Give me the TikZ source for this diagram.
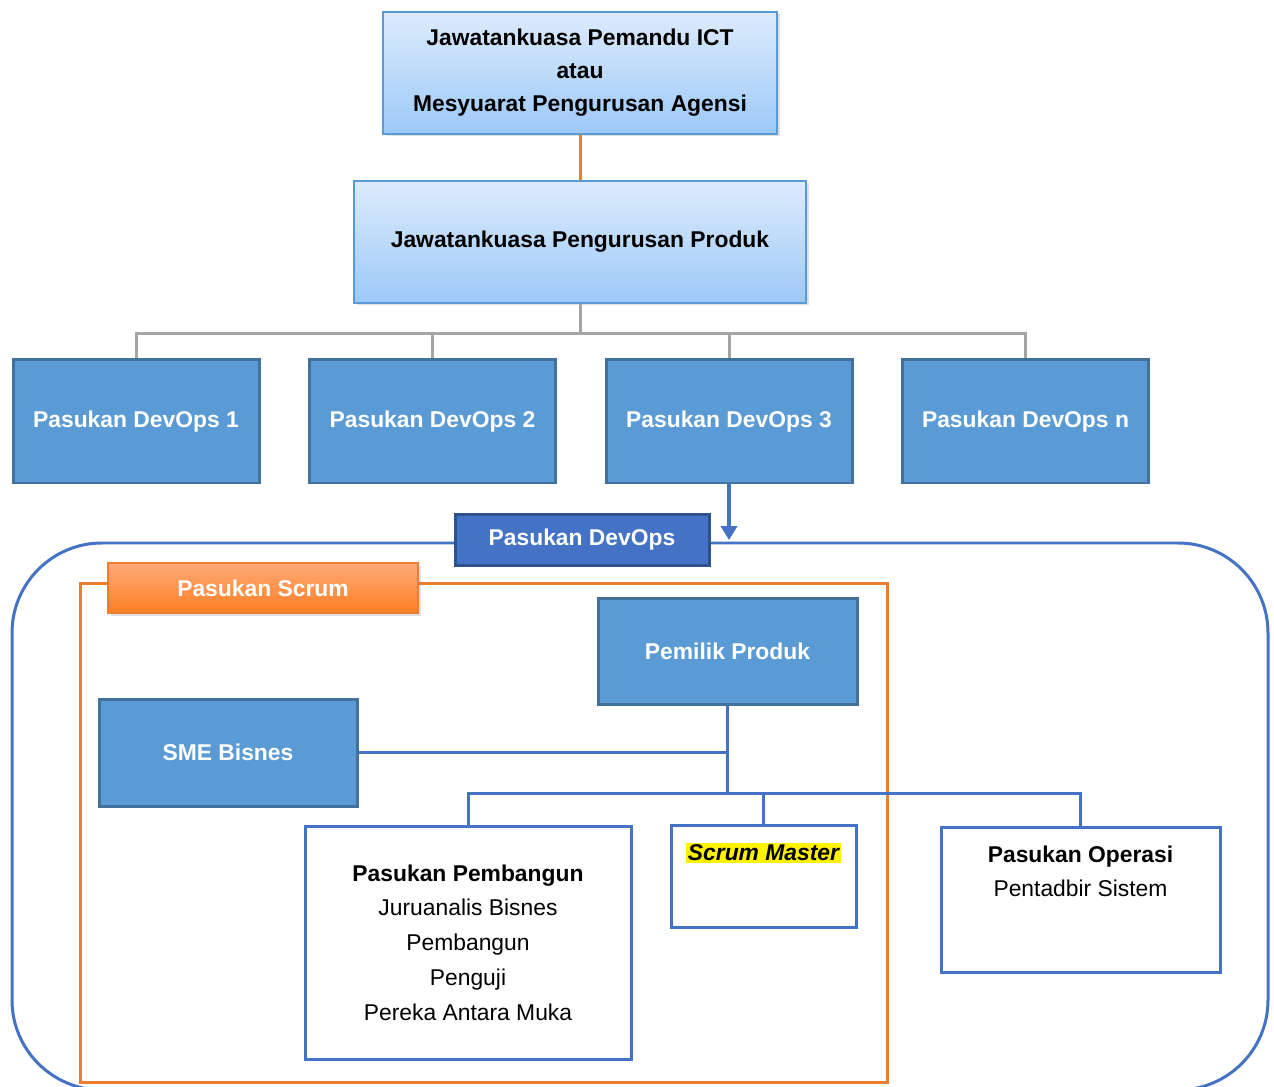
\documentclass[tikz,border=0pt]{standalone}
\usepackage{fontspec}
\setmainfont{Liberation Sans}
\usetikzlibrary{arrows.meta,shadows}
\definecolor{teamfill}{HTML}{5B9BD5}
\definecolor{teamedge}{HTML}{41719C}
\definecolor{roleblue}{HTML}{4472C4}
\definecolor{darkedge}{HTML}{2F528F}
\definecolor{scrumorange}{HTML}{ED7D31}
\definecolor{linegray}{HTML}{A5A5A5}
\definecolor{skytop}{HTML}{DDEBFC}
\definecolor{skybottom}{HTML}{9CC9F8}
\definecolor{skyedge}{HTML}{5B9BD5}
\definecolor{peachtop}{HTML}{FFAA78}
\definecolor{peachbottom}{HTML}{FF7E22}
\tikzset{
	every node/.style={font=\fontsize{13}{19}\selectfont},
	committee/.style={draw=skyedge, line width=0.03cm, top color=skytop, bottom color=skybottom, drop shadow={opacity=0.25, shadow xshift=0.05cm, shadow yshift=-0.05cm}, align=center, font=\fontsize{13}{18.8}\selectfont\bfseries, minimum height=2.44cm},
	devops/.style={draw=teamedge, fill=teamfill, line width=0.06cm, text=white, font=\fontsize{13}{19}\selectfont\bfseries, minimum width=4.92cm, minimum height=2.46cm},
	role/.style={draw=roleblue, line width=0.06cm},
	link/.style={line width=0.06cm},
}
\begin{document}
\begin{tikzpicture}
	\useasboundingbox (0 cm, 0 cm) rectangle (25.48 cm, 21.72 cm);
	\clip (0 cm, 0 cm) rectangle (25.48 cm, 21.72 cm);
	\node[committee, minimum width=7.88cm] (ict) at (11.6 cm, 20.26 cm) {Jawatankuasa Pemandu ICT\\atau\\Mesyuarat Pengurusan Agensi};
	\node[committee, minimum width=9.04cm] (produk) at (11.6 cm, 16.88 cm) {Jawatankuasa Pengurusan Produk};
	\draw[link, scrumorange] (ict) -- (produk);
	\foreach \n/\x in {1/2.72, 2/8.65, 3/14.58, n/20.51}{
		\node[devops] (devops \n) at (\x cm, 13.29 cm) {Pasukan DevOps \n};
	}
	\coordinate (fork) at (11.6 cm, 15.04 cm);
	\draw[link, linegray] (produk) -- (fork);
	\foreach \n in {1,2,3,n}{
		\draw[link, linegray] (fork) -| (devops \n);
	}
	\draw[roleblue, line width=0.06cm, rounded corners=1.8cm] (0.24 cm, -0.08 cm) rectangle (25.36 cm, 10.86 cm);
	\draw[scrumorange, line width=0.06cm] (1.6 cm, 0.08 cm) rectangle (17.74 cm, 10.06 cm);
	\node[draw=darkedge, fill=roleblue, line width=0.06cm, text=white, font=\fontsize{13}{19}\selectfont\bfseries, minimum width=5.08cm, minimum height=1.02cm] (pasukan) at (11.64 cm, 10.93 cm) {Pasukan DevOps};
	\coordinate (drop) at (14.58 cm, 10.92 cm);
	\draw[roleblue, line width=0.08cm, -{Triangle[width=0.32cm, length=0.28cm]}] (devops 3) -- (drop);
	\node[draw=scrumorange, line width=0.03cm, top color=peachtop, bottom color=peachbottom, drop shadow={opacity=0.25, shadow xshift=0.05cm, shadow yshift=-0.05cm}, text=white, font=\fontsize{13}{19}\selectfont\bfseries, minimum width=6.2cm, minimum height=1cm] (scrum) at (5.26 cm, 9.96 cm) {Pasukan Scrum};
	\node[devops, minimum width=5.18cm, minimum height=2.12cm] (pemilik) at (14.55 cm, 8.7 cm) {Pemilik Produk};
	\node[devops, minimum width=5.16cm, minimum height=2.14cm] (sme) at (4.56 cm, 6.67 cm) {SME Bisnes};
	\node[role, minimum width=6.52cm, minimum height=4.66cm, align=center, font=\fontsize{13}{19.8}\selectfont] (pembangun) at (9.36 cm, 2.87 cm) {\textbf{Pasukan Pembangun}\\Juruanalis Bisnes\\Pembangun\\Penguji\\Pereka Antara Muka};
	\node[role, minimum width=3.7cm, minimum height=2.04cm] (sm) at (15.27 cm, 4.2 cm) {};
	\node[fill=yellow, inner sep=0.04cm, font=\fontsize{13}{19}\selectfont\bfseries\itshape] (sm label) at (15.27 cm, 4.66 cm) {Scrum Master};
	\node[role, minimum width=5.58cm, minimum height=2.9cm] (operasi) at (21.61 cm, 3.73 cm) {};
	\node[align=center, font=\fontsize{13}{19.4}\selectfont] (operasi label) at (21.61 cm, 4.3 cm) {\textbf{Pasukan Operasi}\\Pentadbir Sistem};
	\coordinate (hub) at (14.55 cm, 5.86 cm);
	\draw[link, roleblue] (pemilik) -- (hub);
	\draw[link, roleblue] (sme) -- (sme -| hub);
	\draw[link, roleblue] (pembangun) |- (hub) -| (operasi);
	\draw[link, roleblue] (sm) -- (sm |- hub);
\end{tikzpicture}
\end{document}
